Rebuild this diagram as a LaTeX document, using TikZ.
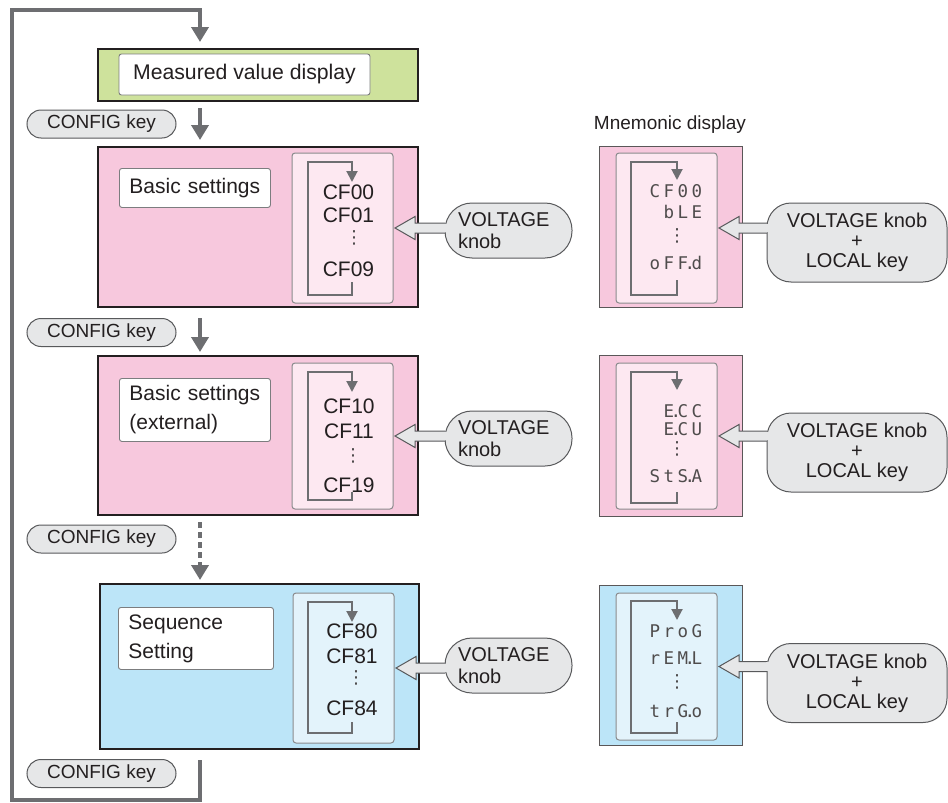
\documentclass[tikz,border=0pt]{standalone}
\usepackage{fontspec}
\setmainfont{Liberation Sans}
\newfontfamily\segfont{DejaVu Sans Mono}
\newfontfamily\dvsfont{DejaVu Sans}
\usetikzlibrary{arrows.meta,calc}
\definecolor{flowgray}{HTML}{6D6E71}
\definecolor{txt}{HTML}{231F20}
\definecolor{greenfill}{HTML}{CEE29C}
\definecolor{pinkfill}{HTML}{F7C8DD}
\definecolor{pinkpanel}{HTML}{FDE8F1}
\definecolor{bluefill}{HTML}{BCE5F8}
\definecolor{bluepanel}{HTML}{E3F3FB}
\definecolor{keyfill}{HTML}{E6E7E8}
\definecolor{keyline}{HTML}{58595B}
\newcommand\sg[1]{\makebox[14pt]{#1}}
\newcommand\segdot{\makebox[0pt]{.}}
\newcommand\fsA{\fontsize{21}{29}\selectfont}
\newcommand\fsM{\fontsize{21.2}{24}\selectfont}
\newcommand\fsB{\fontsize{19}{23}\selectfont}
\newcommand\fsC{\fontsize{20}{22}\selectfont}
\newcommand\fsD{\fontsize{20}{20}\selectfont}
\newcommand\segA{\segfont\fontsize{17.5}{17.5}\selectfont}
\newcommand\dotfont{\dvsfont\fontsize{18}{18}\selectfont}
\newcommand\cyc[6]{\draw[cycline] (#2,#5) -- (#2,#6) -- (#1,#6) -- (#1,#3) -- (#2,#3) -- (#2,#4);}
\newcommand\blockarr[2]{%
  \coordinate (bt) at (#2.east);
  \coordinate (bs) at (#1.west |- #2.east);
  \filldraw[blockarrow] ($(bs)+(0,-5)$) -- ($(bt)+(22,-5)$) -- ($(bt)+(22,-11.5)$) -- ($(bt)+(2,0)$) -- ($(bt)+(22,11.5)$) -- ($(bt)+(22,5)$) -- ($(bs)+(0,5)$);
  \fill[keyfill] ($(bs)+(-1.3,-4.4)$) rectangle ($(bs)+(1.5,4.4)$);
}
\begin{document}
\begin{tikzpicture}[x=1pt,y=-1pt,
  every node/.style={text=txt},
  flow/.style={draw=flowgray, line width=4pt, -{Triangle[width=17pt,length=15pt]}},
  stage/.style={draw=txt, line width=1.2pt, anchor=north west, inner sep=0pt, outer sep=0pt},
  mstage/.style={draw=txt!75, line width=1pt, anchor=north west, inner sep=0pt, outer sep=0pt, minimum width=143pt},
  lblbox/.style={draw=flowgray!90, fill=white, rounded corners=2.5pt, line width=0.9pt, font=\fsA, inner ysep=0pt, inner xsep=10pt, align=left, anchor=north west},
  panel/.style={draw=flowgray!80, line width=1pt, rounded corners=3pt, anchor=north west, inner sep=0pt, outer sep=0pt, minimum width=101pt},
  keypill/.style={draw=keyline, fill=keyfill, line width=1pt, rounded corners=14pt, minimum width=149pt, minimum height=28pt, inner sep=0pt, font=\fsB},
  knobcall/.style={draw=keyline, fill=keyfill, line width=1pt, rounded corners=27pt, minimum height=55pt, text width=101pt, inner xsep=13pt, inner ysep=0pt, align=left, font=\fsC, outer sep=0pt},
  mixcall/.style={draw=keyline, fill=keyfill, line width=1pt, rounded corners=24pt, minimum width=180pt, minimum height=79pt, inner sep=0pt, align=center, font=\fsD, outer sep=0pt},
  blockarrow/.style={draw=keyline, fill=keyfill, line width=1pt, line join=miter},
  cycline/.style={draw=flowgray, line width=2pt, -{Triangle[width=11pt,length=11pt]}},
  cftext/.style={font=\fsA, text height=15pt, text depth=0pt, inner sep=0pt},
  segtext/.style={font=\segA, text=txt!80, text height=12.6pt, text depth=0pt, inner sep=0pt, anchor=east},
  vdotnode/.style={font=\dotfont, text=txt!85, inner sep=0pt},
]
\useasboundingbox (0,0) rectangle (948,803);
\coordinate (fx) at (200,0);

% measured value
\node[stage, fill=greenfill, minimum width=320pt, minimum height=52pt] (meas) at (98,49) {};
\node[lblbox, font=\fsM, anchor=center, minimum width=251pt, minimum height=41pt, inner xsep=0pt, align=center] (measlbl) at (244.5,74.5) {Measured value display};

% keys
\node[keypill] (key1) at (101.5,124) {CONFIG key};
\node[keypill] (key2) at (101.5,332.5) {CONFIG key};
\node[keypill] (key3) at (101.5,539) {CONFIG key};
\node[keypill] (key4) at (101.5,773.5) {CONFIG key};

\node[font=\fsB] (mnem) at (670,125) {Mnemonic display};

% ---- row 1
\node[stage, fill=pinkfill, minimum width=320pt, minimum height=160pt] (st1) at (98,147) {};
\node[lblbox, text width=131pt, minimum height=39pt] (lbl1) at (119,168) {Basic settings};
\node[panel, fill=pinkpanel, minimum height=150pt] (pan1) at (292,153) {};
\cyc{308}{352}{162}{182}{282}{295}
\node[cftext] (cf00) at (348.5,192) {CF00};
\node[cftext] (cf01) at (348.5,214.5) {CF01};
\node[vdotnode] (d1) at (354,237.5) {⋮};
\node[cftext] (cf09) at (348.5,269) {CF09};
\node[knobcall] (kn1) at (508.5,230.5) {VOLTAGE\\knob};
\blockarr{kn1}{pan1}

\node[mstage, fill=pinkfill, minimum height=161pt] (mst1) at (599,146) {};
\node[panel, fill=pinkpanel, minimum height=150pt] (mpan1) at (616,153) {};
\cyc{631}{677}{162}{180}{280}{295}
\node[segtext] (m10) at (704,191) {\sg{C}\sg{F}\sg{0}\sg{0}};
\node[segtext] (m11) at (704,212.5) {\sg{b}\sg{L}\sg{E}};
\node[vdotnode] (md1) at (677,236) {⋮};
\node[segtext] (m12) at (704,263.5) {\sg{o}\sg{F}\sg{F}\segdot\sg{d}};
\node[mixcall] (mx1) at (857,242.5) {VOLTAGE knob\\+\\LOCAL key};
\blockarr{mx1}{mpan1}

% ---- row 2
\node[stage, fill=pinkfill, minimum width=320pt, minimum height=159pt] (st2) at (98,356) {};
\node[lblbox, text width=131pt, minimum height=63pt] (lbl2) at (119,378) {Basic settings\\(external)};
\node[panel, fill=pinkpanel, minimum height=146pt] (pan2) at (292,363) {};
\cyc{308}{352}{372}{392}{492}{500}
\node[cftext] (cf10) at (349,405.5) {CF10};
\node[cftext] (cf11) at (349,430.5) {CF11};
\node[vdotnode] (d2) at (353,456) {⋮};
\node[cftext] (cf19) at (349,484.5) {CF19};
\node[knobcall] (kn2) at (508.5,438.5) {VOLTAGE\\knob};
\blockarr{kn2}{pan2}

\node[mstage, fill=pinkfill, minimum height=161pt] (mst2) at (599,355) {};
\node[panel, fill=pinkpanel, minimum height=146pt] (mpan2) at (616,363) {};
\cyc{631}{677}{372}{390}{492}{503}
\node[segtext] (m20) at (704,411) {\sg{E}\segdot\sg{C}\sg{C}};
\node[segtext] (m21) at (704,429.5) {\sg{E}\segdot\sg{C}\sg{U}};
\node[vdotnode] (md2) at (677,449) {⋮};
\node[segtext] (m22) at (704,476.5) {\sg{S}\sg{t}\sg{S}\segdot\sg{A}};
\node[mixcall] (mx2) at (857,452.5) {VOLTAGE knob\\+\\LOCAL key};
\blockarr{mx2}{mpan2}

% ---- row 3
\node[stage, fill=bluefill, minimum width=319pt, minimum height=165pt] (st3) at (100,584) {};
\node[lblbox, text width=135pt, minimum height=62pt] (lbl3) at (118,607) {Sequence\\Setting};
\node[panel, fill=bluepanel, minimum height=150pt] (pan3) at (293,593) {};
\cyc{308}{352}{602}{622}{722}{733}
\node[cftext] (cf80) at (352,630.5) {CF80};
\node[cftext] (cf81) at (352,655.5) {CF81};
\node[vdotnode] (d3) at (356,677.5) {⋮};
\node[cftext] (cf84) at (352,708) {CF84};
\node[knobcall] (kn3) at (508.5,665.5) {VOLTAGE\\knob};
\blockarr{kn3}{pan3}

\node[mstage, fill=bluefill, minimum height=160pt] (mst3) at (599,585) {};
\node[panel, fill=bluepanel, minimum height=147pt] (mpan3) at (616,593) {};
\cyc{631}{677}{601}{620}{722}{733}
\node[segtext] (m30) at (704,631) {\sg{P}\sg{r}\sg{o}\sg{G}};
\node[segtext] (m31) at (704,658.5) {\sg{r}\sg{E}\sg{M}\segdot\sg{L}};
\node[vdotnode] (md3) at (677,682) {⋮};
\node[segtext] (m32) at (704,711) {\sg{t}\sg{r}\sg{G}\segdot\sg{o}};
\node[mixcall] (mx3) at (857,683) {VOLTAGE knob\\+\\LOCAL key};
\blockarr{mx3}{mpan3}

% ---- flow arrows
\draw[flow, shorten <=7pt, shorten >=7pt] (meas.south -| fx) -- (st1.north -| fx);
\draw[flow, shorten <=11pt, shorten >=4pt] (st1.south -| fx) -- (st2.north -| fx);
\draw[flow, dash pattern=on 6pt off 4pt, shorten <=7pt, shorten >=4pt] (st2.south -| fx) -- (st3.north -| fx);
\draw[flow, shorten <=11pt, shorten >=7pt] (st3.south -| fx) -- (200,800) -| (12,10) -| (meas.north -| fx);
\end{tikzpicture}
\end{document}
